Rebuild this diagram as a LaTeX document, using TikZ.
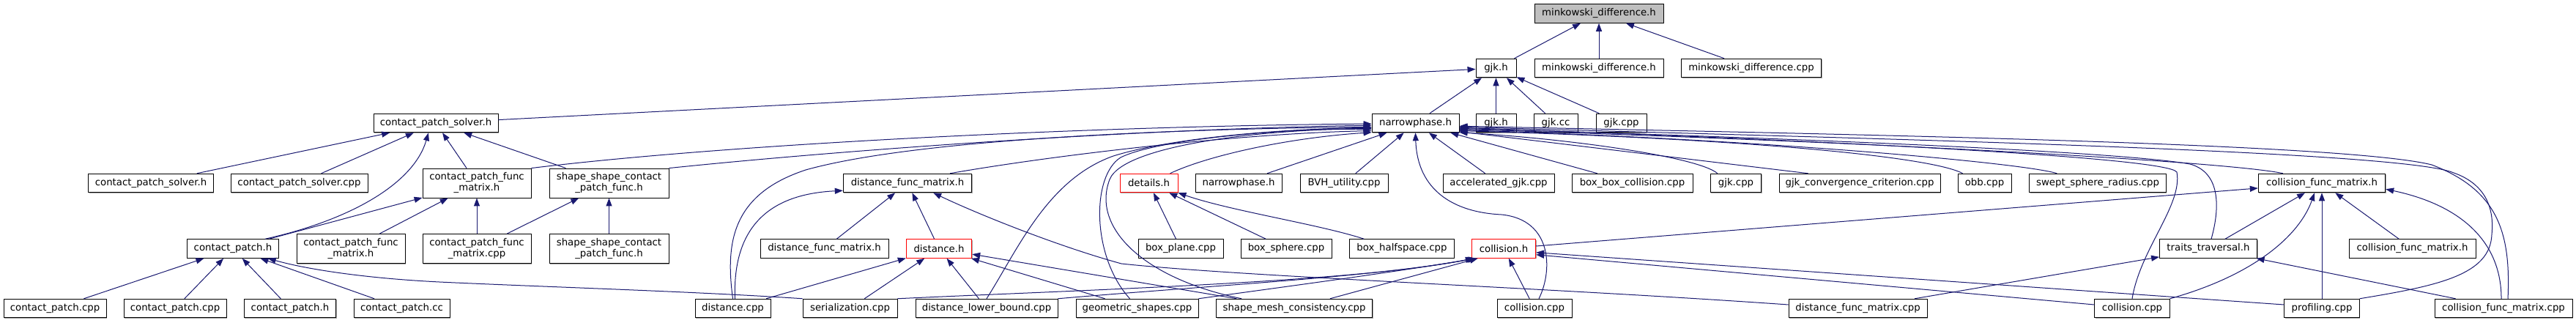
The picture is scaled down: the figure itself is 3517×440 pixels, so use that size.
\documentclass[tikz,border=0pt]{standalone}
\usepackage{fontspec}
\setmainfont{DejaVu Sans}
\usetikzlibrary{arrows.meta,shadows}
\definecolor{edgec}{HTML}{191970}
\definecolor{rootfill}{HTML}{BFBFBF}
\tikzset{
  fnode/.style={draw=black, fill=white, line width=0.9pt, inner sep=0pt,
    minimum height=25.6pt, font=\fontsize{13.3}{15}\selectfont, align=center,
    general shadow={fill=gray!70, shadow xshift=1pt, shadow yshift=-1pt}},
  tnode/.style={fnode, minimum height=40pt},
  rnode/.style={fnode, draw=red},
  rootnode/.style={fnode, fill=rootfill},
  e/.style={draw=edgec, line width=1pt, -{Triangle[length=11pt,width=8pt]}},
}
\begin{document}
\begin{tikzpicture}[x=1pt,y=-1pt]
\fill[white] (0,0) rectangle (3517,440);
\useasboundingbox (0,0) rectangle (3517,440);
% row 0
\node[rootnode, minimum width=176pt] (root) at (2183,18.5) {minkowski\_difference.h};
% row 1
\node[fnode, minimum width=55pt] (gjkh1) at (2042.5,93) {gjk.h};
\node[fnode, minimum width=176pt] (mdh1) at (2183,93) {minkowski\_difference.h};
\node[fnode, minimum width=191pt] (mdcpp) at (2391,93) {minkowski\_difference.cpp};
% row 2
\node[fnode, minimum width=170pt] (cpsh) at (595,168) {contact\_patch\_solver.h};
\node[fnode, minimum width=119pt] (nph) at (1932.5,168) {narrowphase.h};
\node[fnode, minimum width=55pt] (gjkh2) at (2042.5,168) {gjk.h};
\node[fnode, minimum width=60pt] (gjkcc) at (2124,168) {gjk.cc};
\node[fnode, minimum width=69pt] (gjkcpp2) at (2213.5,168) {gjk.cpp};
% row 3
\node[fnode, minimum width=170.5pt] (cpsh3) at (206,250) {contact\_patch\_solver.h};
\node[fnode, minimum width=187pt] (cpscpp) at (408.5,250) {contact\_patch\_solver.cpp};
\node[tnode, minimum width=148pt] (cpfmh3) at (651,250) {contact\_patch\_func\\\_matrix.h};
\node[tnode, minimum width=163pt] (sscpfh3) at (831.5,250) {shape\_shape\_contact\\\_patch\_func.h};
\node[fnode, minimum width=175.5pt] (dfmh3) at (1239,250) {distance\_func\_matrix.h};
\node[rnode, minimum width=79pt] (details) at (1568.5,250) {details.h};
\node[fnode, minimum width=118pt] (nph3) at (1691,250) {narrowphase.h};
\node[fnode, minimum width=120pt] (bvh) at (1835,250) {BVH\_utility.cpp};
\node[fnode, minimum width=152pt] (agjk) at (2046,250) {accelerated\_gjk.cpp};
\node[fnode, minimum width=165pt] (bbc) at (2228.5,250) {box\_box\_collision.cpp};
\node[fnode, minimum width=69.5pt] (gjkcpp3) at (2370,250) {gjk.cpp};
\node[fnode, minimum width=220pt] (gjkcc3) at (2539,250) {gjk\_convergence\_criterion.cpp};
\node[fnode, minimum width=73pt] (obb) at (2709.5,250) {obb.cpp};
\node[fnode, minimum width=186.5pt] (ssr) at (2864,250) {swept\_sphere\_radius.cpp};
\node[fnode, minimum width=173.5pt] (cfmh3) at (3170,250) {collision\_func\_matrix.h};
% row 4
\node[fnode, minimum width=124.5pt] (cph4) at (318,339.5) {contact\_patch.h};
\node[tnode, minimum width=148pt] (cpfmh4) at (479,339.5) {contact\_patch\_func\\\_matrix.h};
\node[tnode, minimum width=148pt] (cpfmcpp4) at (651,339.5) {contact\_patch\_func\\\_matrix.cpp};
\node[tnode, minimum width=163pt] (sscpfh4) at (831.5,339.5) {shape\_shape\_contact\\\_patch\_func.h};
\node[fnode, minimum width=175pt] (dfmh4) at (1125.5,339.5) {distance\_func\_matrix.h};
\node[rnode, minimum width=89.5pt] (disth) at (1282,339.5) {distance.h};
\node[fnode, minimum width=116pt] (bplane) at (1612,339.5) {box\_plane.cpp};
\node[fnode, minimum width=124pt] (bsphere) at (1756,339.5) {box\_sphere.cpp};
\node[fnode, minimum width=142.5pt] (bhalf) at (1914,339.5) {box\_halfspace.cpp};
\node[rnode, minimum width=87.5pt] (collh) at (2053,339.5) {collision.h};
\node[fnode, minimum width=133pt] (tt) at (3015,339.5) {traits\_traversal.h};
\node[fnode, minimum width=173pt] (cfmh4) at (3293.5,339.5) {collision\_func\_matrix.h};
% row 5
\node[fnode, minimum width=140pt] (cpcpp1) at (75,421) {contact\_patch.cpp};
\node[fnode, minimum width=140pt] (cpcpp2) at (239,421) {contact\_patch.cpp};
\node[fnode, minimum width=125.5pt] (cph5) at (396,421) {contact\_patch.h};
\node[fnode, minimum width=131pt] (cpcc) at (548.5,421) {contact\_patch.cc};
\node[fnode, minimum width=103pt] (distcpp) at (1000.5,421) {distance.cpp};
\node[fnode, minimum width=129pt] (ser) at (1160.5,421) {serialization.cpp};
\node[fnode, minimum width=194pt] (dlb) at (1347,421) {distance\_lower\_bound.cpp};
\node[fnode, minimum width=167pt] (geo) at (1552.5,421) {geometric\_shapes.cpp};
\node[fnode, minimum width=213pt] (smc) at (1767,421) {shape\_mesh\_consistency.cpp};
\node[fnode, minimum width=102pt] (collcpp1) at (2095,421) {collision.cpp};
\node[fnode, minimum width=189pt] (dfmcpp) at (2536.5,421) {distance\_func\_matrix.cpp};
\node[fnode, minimum width=102.5pt] (collcpp2) at (2911,421) {collision.cpp};
\node[fnode, minimum width=102.5pt] (prof) at (3170,421) {profiling.cpp};
\node[fnode, minimum width=188pt] (cfmcpp) at (3418,421) {collision\_func\_matrix.cpp};
% --- edges: top
\draw[e] (gjkh1) -- (root);
\draw[e] (mdh1) -- (root);
\draw[e] (mdcpp) -- (root);
\draw[e] (nph) -- (gjkh1);
\draw[e] (gjkh2) -- (gjkh1);
\draw[e] (gjkcc) -- (gjkh1);
\draw[e] (gjkcpp2) -- (gjkh1);
\draw[e] (cpsh) -- (gjkh1);
% contact patch
\draw[e] (cpsh3) -- (cpsh);
\draw[e] (cpscpp) -- (cpsh);
\draw[e] ([xshift=44pt]cph4.north) .. controls (480,300) and (565,250) .. ([xshift=-10pt]cpsh.south);
\draw[e] (cpfmh3) -- (cpsh);
\draw[e] (sscpfh3) -- (cpsh);
\draw[e] (cph4) -- (cpfmh3);
\draw[e] (cpfmh4) -- (cpfmh3);
\draw[e] (cpfmcpp4) -- (cpfmh3);
\draw[e] (cpfmcpp4) -- (sscpfh3);
\draw[e] (sscpfh4) -- (sscpfh3);
\draw[e] (cpcpp1) -- (cph4);
\draw[e] (cpcpp2) -- (cph4);
\draw[e] (cph5) -- (cph4);
\draw[e] (cpcc) -- (cph4);
\draw[e] (ser.north west) .. controls (950,398) and (750,392) .. (600,385) .. controls (500,380) and (420,368) .. ([xshift=-15pt]cph4.south east);
% narrowphase from left
\draw[e] (cpfmh3.north east) .. controls (1000,196) and (1500,172) .. (nph.181);
\draw[e] (sscpfh3.north east) .. controls (1150,205) and (1550,176) .. (nph.183);
\draw[e] (distcpp.north) .. controls (990,330) and (1000,265) .. (1100,232) .. controls (1250,190) and (1600,176) .. (nph.185);
\draw[e] (dlb.north) .. controls (1390,340) and (1430,245) .. (1520,213) .. controls (1600,188) and (1750,176) .. (nph.186);
\draw[e] ([xshift=-10pt]geo.north) .. controls (1490,350) and (1490,240) .. (1530,215) .. controls (1580,190) and (1750,176) .. (nph.187);
\draw[e] ([xshift=35pt]smc.north west) .. controls (1560,380) and (1490,310) .. (1515,245) .. controls (1535,195) and (1750,175) .. (nph.188);
\draw[e] ([xshift=-30pt]dfmh3.north east) .. controls (1450,210) and (1700,182) .. (nph.190);
\draw[e] ([xshift=29pt]details.north) .. controls (1650,212) and (1760,188) .. (nph.192);
% narrowphase from below
\draw[e] (nph3) -- (nph);
\draw[e] (bvh) -- (nph);
\draw[e] (agjk) -- (nph);
\draw[e] (bbc) -- (nph);
\draw[e] ([xshift=6pt]collcpp1.north) .. controls (2120,370) and (2120,300) .. (2050,293) .. controls (1985,290) and (1935,260) .. (nph.south);
% narrowphase from right
\draw[e] ([xshift=10pt]gjkcpp3.north west) .. controls (2320,215) and (2150,190) .. (nph.-12);
\draw[e] ([xshift=40pt]gjkcc3.north west) -- (nph.-11);
\draw[e] ([xshift=7pt]obb.north west) .. controls (2640,215) and (2400,190) .. (nph.-10);
\draw[e] ([xshift=38pt]ssr.north west) .. controls (2760,222) and (2400,190) .. (nph.-9);
\draw[e] ([xshift=34pt]cfmh3.north west) .. controls (3050,222) and (2600,195) .. (nph.-8);
\draw[e] ([xshift=4pt]tt.north) .. controls (3032,280) and (3030,235) .. (2990,224) .. controls (2900,208) and (2500,190) .. (nph.-7);
\draw[e] (collcpp2.north) .. controls (2922,340) and (2980,280) .. (2972,235) .. controls (2960,215) and (2500,192) .. (nph.-6);
\draw[e] (prof.north east) .. controls (3330,390) and (3400,375) .. (3402,320) .. controls (3406,280) and (3390,250) .. (3350,236) .. controls (3280,205) and (2500,188) .. (nph.-5);
\draw[e] ([xshift=6pt]cfmcpp.north) .. controls (3428,320) and (3412,260) .. (3320,225) .. controls (3200,195) and (2500,183) .. (nph.-4);
% details
\draw[e] (bplane) -- (details);
\draw[e] (bsphere) -- (details);
\draw[e] ([xshift=20pt]bhalf.north west) .. controls (1800,306) and (1680,288) .. (details.south east);
% distance_func_matrix.h
\draw[e] (dfmh4) -- (dfmh3);
\draw[e] (disth) -- (dfmh3);
\draw[e] ([xshift=3pt]distcpp.north) .. controls (1000,310) and (1050,265) .. ([yshift=3pt]dfmh3.south west);
\draw[e] ([yshift=5pt]dfmcpp.west) .. controls (2100,392) and (1700,378) .. (1531,360) .. controls (1440,335) and (1330,290) .. ([xshift=-53pt]dfmh3.south east);
% distance.h
\draw[e] (distcpp) -- (disth);
\draw[e] (ser) -- (disth);
\draw[e] (dlb) -- (disth);
\draw[e] (geo) -- (disth);
\draw[e] (smc) -- (disth);
% collision.h
\draw[e] (collcpp1) -- (collh);
\draw[e] (ser.north east) .. controls (1500,395) and (1850,385) .. ([xshift=3pt]collh.south west);
\draw[e] (dlb.north east) .. controls (1650,390) and (1880,378) .. ([xshift=5pt]collh.south west);
\draw[e] (geo.north east) .. controls (1780,388) and (1900,372) .. ([xshift=7pt]collh.south west);
\draw[e] ([xshift=-58pt]smc.north east) -- ([xshift=9pt]collh.south west);
\draw[e] ([yshift=5pt]collcpp2.west) -- ([yshift=5pt]collh.south east);
\draw[e] ([yshift=5pt]prof.west) -- ([yshift=8pt]collh.south east);
% collision_func_matrix.h
\draw[e] (collh) -- (cfmh3);
\draw[e] (tt) -- (cfmh3);
\draw[e] (collcpp2.north east) .. controls (3080,375) and (3140,320) .. ([xshift=-10pt]cfmh3.south);
\draw[e] (prof) -- (cfmh3);
\draw[e] (cfmh4) -- (cfmh3);
\draw[e] ([xshift=-3pt]cfmcpp.north) .. controls (3415,330) and (3360,280) .. ([yshift=5pt]cfmh3.south east);
% traits_traversal.h
\draw[e] (dfmcpp) -- (tt);
\draw[e] (cfmcpp) -- (tt);
\end{tikzpicture}
\end{document}
